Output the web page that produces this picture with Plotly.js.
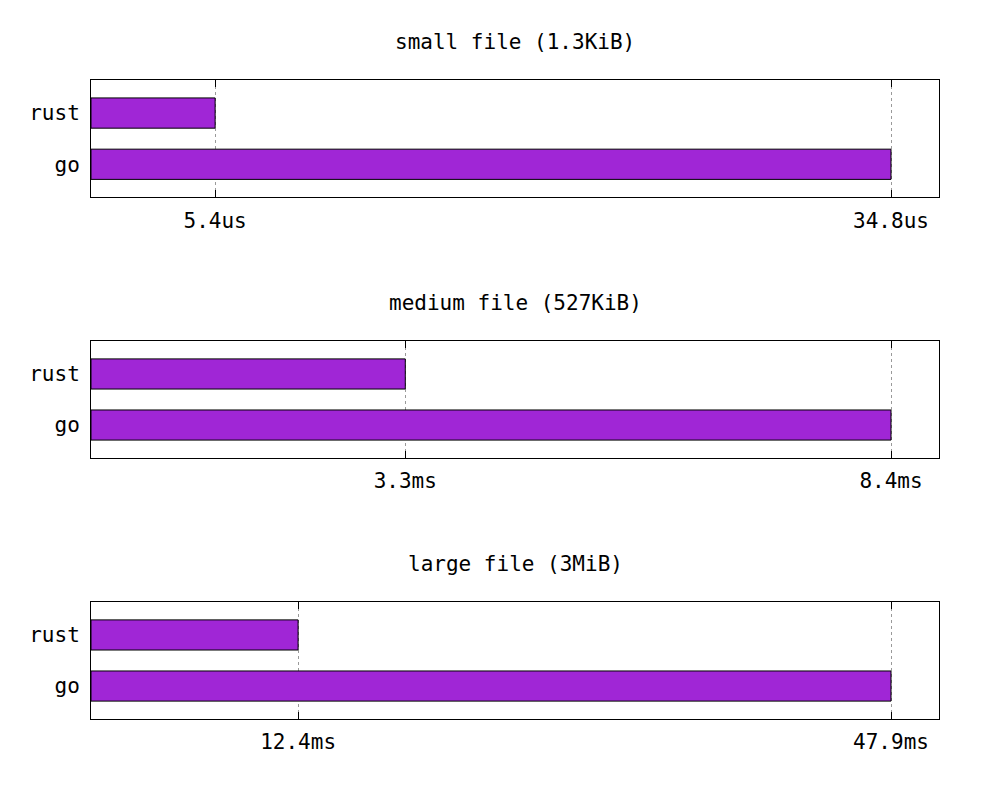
<!DOCTYPE html>
<html>
<head>
<meta charset="utf-8">
<script src="https://cdn.plot.ly/plotly-3.0.1.min.js"></script>
<style>
  html, body { margin: 0; padding: 0; background: #fff; }
  #chart { width: 1000px; height: 800px; }
</style>
</head>
<body>
<div id="chart"></div>
<script>
// programs compared, bottom to top
const programs = ['go', 'rust'];

const titles = ['small file (1.3KiB)', 'medium file (527KiB)', 'large file (3MiB)'];
const units = ['us', 'ms', 'ms'];

// parse time per program (go, rust)
const smallTimes = [34.8, 5.4];
const mediumTimes = [8.4, 3.3];
const largeTimes = [47.9, 12.4];

const allTimes = [smallTimes, mediumTimes, largeTimes];

const barColor = '#a026d6';
const font = 'DejaVu Sans Mono, monospace';

// paper fractions for each panel (top to bottom)
const domains = [[0.8164, 1], [0.4085, 0.5915], [0, 0.1831]];

const traces = [];
const layout = {
  width: 1000,
  height: 800,
  margin: { t: 80, b: 81, l: 91, r: 61 },
  paper_bgcolor: '#fff',
  plot_bgcolor: '#fff',
  font: { family: font, size: 21, color: '#000' },
  showlegend: false,
  annotations: []
};

allTimes.forEach((times, i) => {
  const n = i + 1;
  const sfx = n === 1 ? '' : String(n);
  traces.push({
    type: 'bar',
    orientation: 'h',
    x: times,
    y: programs,
    xaxis: 'x' + sfx,
    yaxis: 'y' + sfx,
    width: 0.59,
    marker: { color: barColor, line: { color: '#000', width: 1 } },
    hoverinfo: 'x+y'
  });

  layout['xaxis' + sfx] = {
    anchor: 'y' + sfx,
    domain: [0, 1],
    range: [0, Math.max(...times) * 1.06],
    tickmode: 'array',
    tickvals: times,
    ticktext: times.map(v => v + units[i]),
    ticks: 'inside',
    ticklen: 7,
    tickcolor: '#000',
    ticklabelstandoff: 4,
    showline: true,
    linecolor: '#000',
    linewidth: 1,
    mirror: 'ticks',
    showgrid: true,
    gridcolor: '#9a9a9a',
    gridwidth: 1,
    griddash: 'dot',
    zeroline: false,
    fixedrange: true
  };
  layout['yaxis' + sfx] = {
    anchor: 'x' + sfx,
    domain: domains[i],
    type: 'category',
    range: [-0.645, 1.645],
    ticks: '',
    ticklabelstandoff: 6,
    showline: true,
    linecolor: '#000',
    linewidth: 1,
    mirror: true,
    showgrid: false,
    zeroline: false,
    fixedrange: true
  };

  layout.annotations.push({
    text: titles[i],
    xref: 'paper',
    yref: 'paper',
    x: 0.5,
    y: domains[i][1],
    yshift: 38,
    xanchor: 'center',
    yanchor: 'middle',
    showarrow: false,
    font: { family: font, size: 21, color: '#000' }
  });
});

Plotly.newPlot('chart', traces, layout, { displayModeBar: false, staticPlot: true });
</script>
</body>
</html>
